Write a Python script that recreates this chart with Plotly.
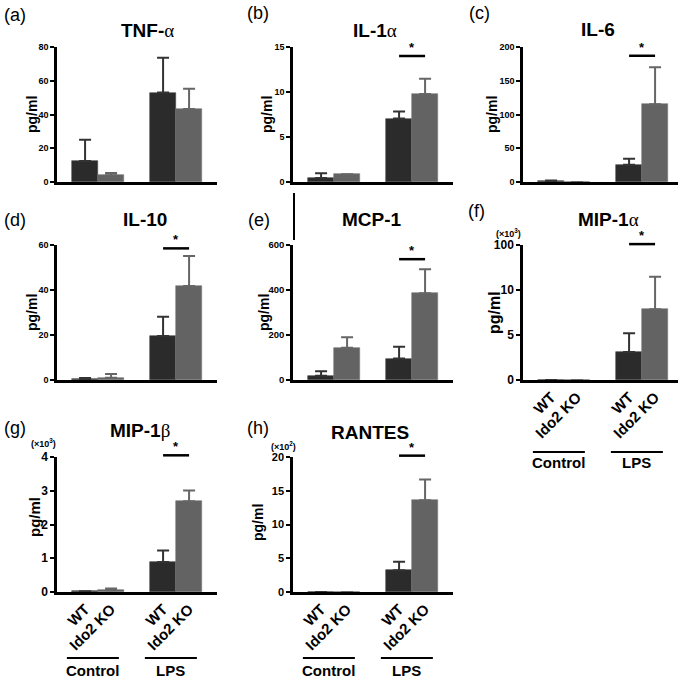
import plotly.graph_objects as go

W, H = 685, 679

groups = ["Control", "LPS"]
genotypes = ["WT", "Ido2 KO"]

# means / upper SD for WT ctrl, KO ctrl, WT LPS, KO LPS
tnf_mean = [12.4, 4.0, 53.0, 43.3]
tnf_sd = [12.7, 1.3, 20.7, 12.0]
il1a_mean = [0.45, 0.86, 7.05, 9.78]
il1a_sd = [0.52, 0.0, 0.79, 1.68]
il6_mean = [1.0, 0.0, 25.7, 115.0]
il6_sd = [1.2, 0.0, 8.9, 55.0]
il10_mean = [0.4, 1.0, 19.6, 41.8]
il10_sd = [0.5, 1.7, 8.5, 13.3]
mcp1_mean = [19.0, 143.0, 95.0, 385.0]
mcp1_sd = [20.0, 47.0, 53.0, 107.0]
# MIP-1a is on a broken axis (0,5,10 | 100) -> values in axis units
mip1a_mean = [0.0, 0.0, 3.1, 7.86]
mip1a_sd = [0.0, 0.0, 2.1, 3.6]
mip1b_mean = [0.02, 0.05, 0.89, 2.69]
mip1b_sd = [0.0, 0.05, 0.34, 0.32]
rantes_mean = [0.0, 0.0, 3.23, 13.58]
rantes_sd = [0.0, 0.0, 1.25, 3.09]

# significance bar height (axis units), None = no bar
sig_heights = [None, 14.0, 187.0, 58.5, 537.0, 15.1, 4.05, 20.2]

AL = "<span style=\"font-family:'Liberation Serif';font-weight:normal\">α</span>"
BE = "<span style=\"font-family:'Liberation Serif';font-weight:normal\">β</span>"

panels = [
    dict(tag="(a)", title="TNF-" + AL, mean=tnf_mean, sd=tnf_sd, ymax=80,
         tv=[0, 20, 40, 60, 80], tt=None, col=0, row=0, tpos=(147, 31), lpos=(15, 15),
         tfs=9, yfs=14, ypos=(32, 114), scale=None),
    dict(tag="(b)", title="IL-1" + AL, mean=il1a_mean, sd=il1a_sd, ymax=15,
         tv=[0, 5, 10, 15], tt=None, col=1, row=0, tpos=(375, 31), lpos=(258, 13),
         tfs=9, yfs=14, ypos=(267, 115), scale=None),
    dict(tag="(c)", title="IL-6", mean=il6_mean, sd=il6_sd, ymax=200,
         tv=[0, 50, 100, 150, 200], tt=None, col=2, row=0, tpos=(598, 30), lpos=(479, 13),
         tfs=9, yfs=14, ypos=(492, 115), scale=None),
    dict(tag="(d)", title="IL-10", mean=il10_mean, sd=il10_sd, ymax=60,
         tv=[0, 20, 40, 60], tt=None, col=0, row=1, tpos=(145, 220), lpos=(15, 220),
         tfs=9, yfs=14, ypos=(32, 312), scale=None),
    dict(tag="(e)", title="MCP-1", mean=mcp1_mean, sd=mcp1_sd, ymax=600,
         tv=[0, 200, 400, 600], tt=None, col=1, row=1, tpos=(372, 220), lpos=(259, 220),
         tfs=9.5, yfs=14, ypos=(264, 313), scale=None),
    dict(tag="(f)", title="MIP-1" + AL, mean=mip1a_mean, sd=mip1a_sd, ymax=15,
         tv=[0, 5, 10, 15], tt=["0", "5", "10", "100"], col=2, row=1, tpos=(608, 220),
         lpos=(476, 211), tfs=12, yfs=16, ypos=(494, 313),
         scale="(×10<sup>3</sup>)", spos=(508, 233)),
    dict(tag="(g)", title="MIP-1" + BE, mean=mip1b_mean, sd=mip1b_sd, ymax=4,
         tv=[0, 1, 2, 3, 4], tt=None, col=0, row=2, tpos=(140, 430), lpos=(15, 428),
         tfs=12, yfs=15, ypos=(34, 517), scale="(×10<sup>3</sup>)", spos=(43, 443)),
    dict(tag="(h)", title="RANTES", mean=rantes_mean, sd=rantes_sd, ymax=20,
         tv=[0, 5, 10, 15, 20], tt=None, col=1, row=2, tpos=(370, 433), lpos=(258, 428),
         tfs=11, yfs=14, ypos=(258, 523), scale="(×10<sup>2</sup>)", spos=(283, 446)),
]

# pixel geometry of the panels
col_px = [(57, 217), (293, 453), (523, 678)]
row_px = [(47, 182), (245, 380), (457, 592)]
bar_px = 26.0
# x-axis labels / group lines under panels f, g, h
xlab_panels = {5: (452, 462), 6: (658, 670), 7: (658, 670)}

FONT = "Liberation Sans, Arial, sans-serif"
wt_color, ko_color = "#2b2b2b", "#636363"


def px_x(p):
    return p / W


def px_y(p):
    return 1 - p / H


fig = go.Figure()
annotations = []
shapes = []

for k, p in enumerate(panels):
    n = k + 1
    xa = "x" if n == 1 else "x%d" % n
    ya = "y" if n == 1 else "y%d" % n
    x0p, x1p = col_px[p["col"]]
    y0p, y1p = row_px[p["row"]]
    r0 = -0.08
    r1 = r0 + (x1p - x0p) / bar_px

    xs = [[3 * g + i + 1 for g in range(len(groups))] for i in range(len(genotypes))]
    for i, (name, col) in enumerate(zip(genotypes, [wt_color, ko_color])):
        m = [p["mean"][2 * g + i] for g in range(len(groups))]
        s = [p["sd"][2 * g + i] for g in range(len(groups))]
        fig.add_trace(go.Bar(
            x=xs[i], y=m, width=1, name=name, showlegend=False,
            marker=dict(color=col, line=dict(color="#777777" if i else "#444444", width=0.6)),
            error_y=dict(type="data", array=s, arrayminus=[0] * len(s), symmetric=False,
                         color="#666666" if i else "#333333", thickness=2, width=6),
            xaxis=xa, yaxis=ya))

    show_x = k in xlab_panels
    fig.update_layout(**{
        ("xaxis" if n == 1 else "xaxis%d" % n): dict(
            domain=[px_x(x0p), px_x(x1p)], range=[r0, r1], anchor=ya,
            showline=True, linecolor="black", linewidth=2.5, ticks="",
            showgrid=False, zeroline=False, showticklabels=show_x,
            tickvals=[x for pair in zip(*xs) for x in pair],
            ticktext=genotypes * len(groups), tickangle=-45,
            tickfont=dict(family=FONT, size=15, color="black", weight="bold")),
        ("yaxis" if n == 1 else "yaxis%d" % n): dict(
            domain=[px_y(y1p), px_y(y0p)], range=[0, p["ymax"]], anchor=xa,
            showline=True, linecolor="black", linewidth=2.5, ticks="outside",
            ticklen=4, tickwidth=2, tickcolor="black", showgrid=False, zeroline=False,
            tickvals=p["tv"], ticktext=p["tt"] if p["tt"] else [str(v) for v in p["tv"]],
            tickfont=dict(family=FONT, size=p["tfs"], color="black", weight="bold")),
    })

    # y title, panel title and panel letter
    annotations.append(dict(x=px_x(p["ypos"][0]), y=px_y(p["ypos"][1]), xref="paper", yref="paper",
                            text="pg/ml", textangle=-90, showarrow=False,
                            xanchor="center", yanchor="middle",
                            font=dict(family=FONT, size=p["yfs"], color="black", weight="bold")))
    annotations.append(dict(x=px_x(p["tpos"][0]), y=px_y(p["tpos"][1]), xref="paper", yref="paper",
                            text=p["title"], showarrow=False, xanchor="center", yanchor="middle",
                            font=dict(family=FONT, size=19, color="black", weight="bold")))
    annotations.append(dict(x=px_x(p["lpos"][0]), y=px_y(p["lpos"][1]), xref="paper", yref="paper",
                            text=p["tag"], showarrow=False, xanchor="center", yanchor="middle",
                            font=dict(family=FONT, size=18, color="black")))
    if p["scale"]:
        annotations.append(dict(x=px_x(p["spos"][0]), y=px_y(p["spos"][1]), xref="paper", yref="paper",
                                text=p["scale"], showarrow=False, xanchor="center", yanchor="middle",
                                font=dict(family=FONT, size=9, color="black", weight="bold")))

    # significance bar between LPS WT and LPS KO
    sh = sig_heights[k]
    if sh is not None:
        xa_, xb_ = xs[0][1], xs[1][1]
        fy = sh / p["ymax"]
        shapes.append(dict(type="line", xref=xa + " domain", yref=ya + " domain",
                           x0=(xa_ - r0) / (r1 - r0), x1=(xb_ - r0) / (r1 - r0), y0=fy, y1=fy,
                           line=dict(color="black", width=2.5)))
        annotations.append(dict(x=(xa_ + xb_) / 2, y=fy, xref=xa, yref=ya + " domain",
                                text="*", showarrow=False, yanchor="bottom", yshift=-1,
                                font=dict(family=FONT, size=13, color="black", weight="bold")))

    # group lines + labels
    if show_x:
        ly, ty = xlab_panels[k]
        for g, gname in enumerate(groups):
            ga, gb = 3 * g + 0.3, 3 * g + 2.3
            shapes.append(dict(type="line", xref=xa + " domain", yref="paper",
                               x0=(ga - r0) / (r1 - r0), x1=(gb - r0) / (r1 - r0),
                               y0=px_y(ly), y1=px_y(ly), line=dict(color="black", width=2)))
            annotations.append(dict(x=(ga + gb) / 2, y=px_y(ty), xref=xa, yref="paper",
                                    text=gname, showarrow=False, xanchor="center", yanchor="middle",
                                    font=dict(family=FONT, size=15, color="black", weight="bold")))

# stray vertical rule next to (e) in the original figure
shapes.append(dict(type="line", xref="paper", yref="paper", x0=px_x(294), x1=px_x(294),
                   y0=px_y(193), y1=px_y(240), line=dict(color="black", width=2)))

fig.update_layout(
    width=W, height=H, margin=dict(l=0, r=0, t=0, b=0, autoexpand=False),
    paper_bgcolor="white", plot_bgcolor="white", bargap=0,
    annotations=annotations, shapes=shapes, showlegend=False,
    font=dict(family=FONT, color="black"),
)

# drop the default 8px body margin so the figure sits at the page corner
fig.write_html("out.html", config={"displayModeBar": False},
               post_script="document.body.style.margin='0';")
